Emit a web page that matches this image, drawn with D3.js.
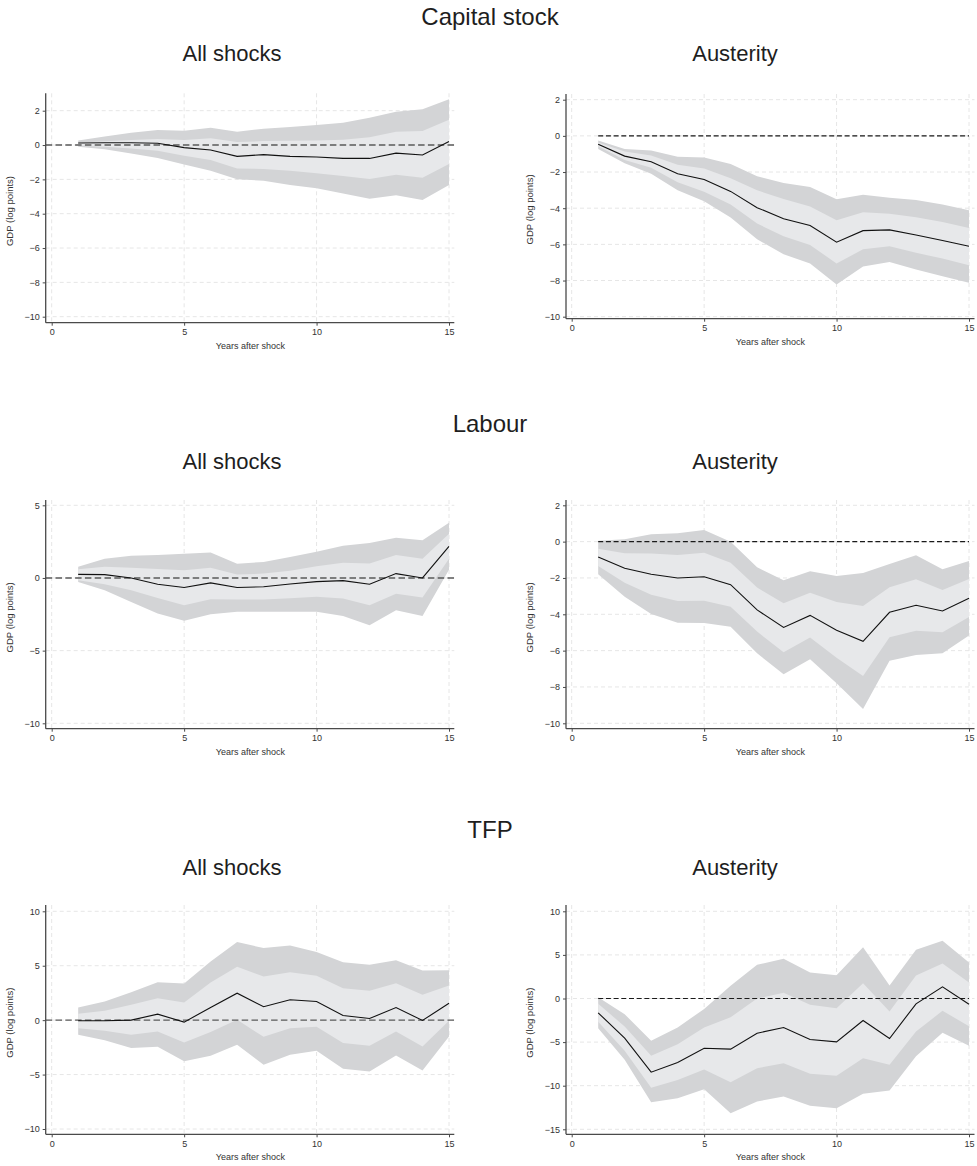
<!DOCTYPE html>
<html>
<head>
<meta charset="utf-8">
<script src="https://cdn.jsdelivr.net/npm/d3@7"></script>
<style>
  body { margin: 0; background: #fff; }
  svg { display: block; }
  text { font-family: "Liberation Sans", Arial, Helvetica, sans-serif; }
</style>
</head>
<body>
<svg id="chart" width="977" height="1166"></svg>
<script>
// Impulse responses of GDP (log points), years 1-15 after the shock.
const years = [1, 2, 3, 4, 5, 6, 7, 8, 9, 10, 11, 12, 13, 14, 15];
const xTicks = [0, 5, 10, 15];

const sectionTitles = ["Capital stock", "Labour", "TFP"];
const columnTitles = ["All shocks", "Austerity"];

// Capital stock, all shocks
const capAllPoint   = [0.12, 0.13, 0.13, 0.10, -0.15, -0.29, -0.66, -0.56, -0.66, -0.70, -0.78, -0.78, -0.47, -0.58, 0.20];
const capAllInnerHi = [0.15, 0.22, 0.30, 0.35, 0.30, 0.40, 0.17, 0.23, 0.25, 0.27, 0.31, 0.45, 0.78, 0.82, 1.48];
const capAllInnerLo = [-0.02, -0.10, -0.20, -0.33, -0.62, -0.87, -1.36, -1.40, -1.50, -1.65, -1.80, -1.98, -1.73, -1.90, -1.10];
const capAllOuterHi = [0.27, 0.49, 0.72, 0.87, 0.83, 1.00, 0.78, 0.95, 1.05, 1.17, 1.30, 1.59, 1.94, 2.08, 2.66];
const capAllOuterLo = [-0.10, -0.25, -0.49, -0.76, -1.13, -1.50, -2.00, -2.08, -2.33, -2.52, -2.82, -3.13, -2.93, -3.20, -2.33];

// Capital stock, austerity
const capAusPoint   = [-0.46, -1.12, -1.43, -2.10, -2.41, -3.07, -3.97, -4.58, -4.96, -5.88, -5.24, -5.20, -5.48, -5.79, -6.10];
const capAusInnerHi = [-0.37, -0.86, -1.08, -1.60, -1.80, -2.35, -3.01, -3.49, -3.90, -4.67, -4.23, -4.30, -4.50, -4.76, -5.09];
const capAusInnerLo = [-0.57, -1.34, -1.76, -2.56, -3.09, -3.79, -4.85, -5.55, -6.03, -7.06, -6.27, -6.10, -6.47, -6.78, -7.15];
const capAusOuterHi = [-0.26, -0.72, -0.81, -1.16, -1.19, -1.56, -2.24, -2.61, -2.83, -3.51, -3.25, -3.42, -3.55, -3.80, -4.12];
const capAusOuterLo = [-0.72, -1.51, -2.10, -3.01, -3.62, -4.52, -5.72, -6.54, -7.06, -8.22, -7.22, -6.97, -7.39, -7.76, -8.12];

// Labour, all shocks
const labAllPoint   = [0.25, 0.23, 0.00, -0.43, -0.66, -0.34, -0.66, -0.60, -0.41, -0.25, -0.18, -0.43, 0.30, 0.00, 2.17];
const labAllInnerHi = [0.60, 0.78, 0.71, 0.62, 0.53, 0.71, 0.23, 0.30, 0.50, 0.80, 1.05, 1.00, 1.58, 1.33, 3.04];
const labAllInnerLo = [-0.16, -0.43, -0.85, -1.37, -1.88, -1.46, -1.49, -1.49, -1.40, -1.30, -1.42, -1.88, -1.08, -1.35, 1.33];
const labAllOuterHi = [0.78, 1.33, 1.53, 1.58, 1.67, 1.76, 0.98, 1.10, 1.44, 1.81, 2.22, 2.40, 2.77, 2.59, 3.80];
const labAllOuterLo = [-0.27, -0.85, -1.65, -2.45, -2.95, -2.49, -2.33, -2.33, -2.33, -2.33, -2.61, -3.25, -2.22, -2.61, 0.57];

// Labour, austerity
const labAusPoint   = [-0.84, -1.47, -1.80, -2.00, -1.93, -2.37, -3.76, -4.72, -4.06, -4.88, -5.49, -3.89, -3.50, -3.82, -3.12];
const labAusInnerHi = [-0.39, -0.64, -0.66, -0.73, -0.61, -1.16, -2.53, -3.39, -2.81, -3.32, -3.54, -2.51, -2.07, -2.66, -2.06];
const labAusInnerLo = [-1.34, -2.26, -2.92, -3.27, -3.25, -3.58, -4.95, -6.09, -5.28, -6.39, -7.39, -5.27, -4.90, -4.99, -4.15];
const labAusOuterHi = [0.05, 0.13, 0.40, 0.46, 0.64, 0.00, -1.41, -2.13, -1.63, -1.89, -1.72, -1.23, -0.75, -1.52, -1.06];
const labAusOuterLo = [-1.80, -3.03, -3.98, -4.46, -4.48, -4.68, -6.15, -7.30, -6.48, -7.80, -9.21, -6.55, -6.24, -6.15, -5.17];

// TFP, all shocks
const tfpAllPoint   = [-0.06, -0.06, 0.00, 0.55, -0.18, 1.16, 2.48, 1.23, 1.87, 1.72, 0.43, 0.15, 1.16, -0.03, 1.56];
const tfpAllInnerHi = [0.58, 0.86, 1.41, 2.02, 1.62, 3.46, 4.90, 4.01, 4.41, 4.07, 2.94, 2.70, 3.40, 2.33, 3.19];
const tfpAllInnerLo = [-0.74, -0.98, -1.35, -1.04, -2.05, -1.10, 0.03, -1.53, -0.74, -0.61, -2.11, -2.36, -1.04, -2.42, -0.06];
const tfpAllOuterHi = [1.16, 1.72, 2.57, 3.49, 3.37, 5.39, 7.17, 6.62, 6.86, 6.25, 5.33, 5.08, 5.51, 4.56, 4.59];
const tfpAllOuterLo = [-1.35, -1.84, -2.57, -2.45, -3.77, -3.28, -2.27, -4.10, -3.19, -2.82, -4.47, -4.72, -3.25, -4.62, -1.50];

// TFP, austerity
const tfpAusPoint   = [-1.64, -4.55, -8.45, -7.34, -5.70, -5.81, -3.98, -3.33, -4.70, -4.97, -2.52, -4.59, -0.61, 1.34, -0.65];
const tfpAusInnerHi = [-0.61, -3.21, -6.57, -5.24, -3.33, -2.14, 0.00, 0.65, -0.73, -1.11, 1.76, -1.49, 2.64, 4.01, 1.83];
const tfpAusInnerLo = [-2.68, -6.00, -10.24, -9.36, -8.14, -9.59, -7.99, -7.42, -8.64, -8.87, -6.84, -7.61, -3.78, -1.41, -3.17];
const tfpAusOuterHi = [0.15, -1.80, -4.85, -3.33, -1.19, 1.45, 3.86, 4.55, 2.98, 2.68, 5.89, 1.49, 5.58, 6.61, 4.13];
const tfpAusOuterLo = [-3.40, -7.03, -11.89, -11.43, -10.40, -13.15, -11.81, -11.24, -12.31, -12.58, -10.93, -10.55, -6.61, -3.94, -5.43];

// y tick values per panel
const yTicksCapAll = [-10, -8, -6, -4, -2, 0, 2];
const yTicksCapAus = [-10, -8, -6, -4, -2, 0, 2];
const yTicksLabAll = [-10, -5, 0, 5];
const yTicksLabAus = [-10, -8, -6, -4, -2, 0, 2];
const yTicksTfpAll = [-10, -5, 0, 5, 10];
const yTicksTfpAus = [-15, -10, -5, 0, 5, 10];

// ---- geometry ----
const columns = [
  { axisX: 45.7, xEnd: 454.3, x0: 51.7, x1: 449, titleX: 232, zeroFull: true,  zeroColor: "#5a5a5a", zeroWidth: 1.4, zeroDash: "6.5,3.3" },
  { axisX: 566,  xEnd: 974.5, x0: 571.7, x1: 969, titleX: 735, zeroFull: false, zeroColor: "#1a1a1a", zeroWidth: 1.1, zeroDash: "5,2.7" }
];
const rows = [
  { sectionY: 25,  subY: 60.7 },
  { sectionY: 432, subY: 468.5 },
  { sectionY: 838, subY: 874.5 }
];

const panels = [
  { row: 0, col: 0, top: 93.3, bottom: 322.7, pxLo: 316.7, pxHi: 110.7, ticks: yTicksCapAll,
    point: capAllPoint, innerHi: capAllInnerHi, innerLo: capAllInnerLo, outerHi: capAllOuterHi, outerLo: capAllOuterLo },
  { row: 0, col: 1, top: 94, bottom: 318.7, pxLo: 316.7, pxHi: 99.7, ticks: yTicksCapAus,
    point: capAusPoint, innerHi: capAusInnerHi, innerLo: capAusInnerLo, outerHi: capAusOuterHi, outerLo: capAusOuterLo },
  { row: 1, col: 0, top: 500, bottom: 728.7, pxLo: 723.3, pxHi: 505.3, ticks: yTicksLabAll,
    point: labAllPoint, innerHi: labAllInnerHi, innerLo: labAllInnerLo, outerHi: labAllOuterHi, outerLo: labAllOuterLo },
  { row: 1, col: 1, top: 500, bottom: 728.7, pxLo: 723.3, pxHi: 505.3, ticks: yTicksLabAus,
    point: labAusPoint, innerHi: labAusInnerHi, innerLo: labAusInnerLo, outerHi: labAusOuterHi, outerLo: labAusOuterLo },
  { row: 2, col: 0, top: 905, bottom: 1134.3, pxLo: 1129, pxHi: 911.3, ticks: yTicksTfpAll,
    point: tfpAllPoint, innerHi: tfpAllInnerHi, innerLo: tfpAllInnerLo, outerHi: tfpAllOuterHi, outerLo: tfpAllOuterLo },
  { row: 2, col: 1, top: 905, bottom: 1134.3, pxLo: 1129.3, pxHi: 911.3, ticks: yTicksTfpAus,
    point: tfpAusPoint, innerHi: tfpAusInnerHi, innerLo: tfpAusInnerLo, outerHi: tfpAusOuterHi, outerLo: tfpAusOuterLo }
];

const svg = d3.select("#chart");
const outerFill = "#d3d4d6";
const innerFill = "#e7e8ea";
const axisColor = "#4a4a4a";
const gridColor = "#e6e6e6";

// section and column titles
rows.forEach((r, i) => {
  svg.append("text")
    .attr("x", 490).attr("y", r.sectionY)
    .attr("text-anchor", "middle")
    .attr("font-size", 24).attr("fill", "#1e1e1e")
    .text(sectionTitles[i]);
  columns.forEach((c, j) => {
    svg.append("text")
      .attr("x", c.titleX).attr("y", r.subY)
      .attr("text-anchor", "middle")
      .attr("font-size", 22).attr("fill", "#1e1e1e")
      .text(columnTitles[j]);
  });
});

panels.forEach(p => {
  const c = columns[p.col];
  const g = svg.append("g");

  const x = d3.scaleLinear().domain([0, 15]).range([c.x0, c.x1]);
  const lo = d3.min(p.ticks), hi = d3.max(p.ticks);
  const y = d3.scaleLinear().domain([lo, hi]).range([p.pxLo, p.pxHi]);

  // dashed grid
  g.selectAll(".hgrid").data(p.ticks).join("line")
    .attr("x1", c.axisX).attr("x2", c.xEnd)
    .attr("y1", d => y(d)).attr("y2", d => y(d))
    .attr("stroke", gridColor).attr("stroke-width", 1).attr("stroke-dasharray", "4,3");
  g.selectAll(".vgrid").data(xTicks).join("line")
    .attr("x1", d => x(d)).attr("x2", d => x(d))
    .attr("y1", p.top).attr("y2", p.bottom)
    .attr("stroke", gridColor).attr("stroke-width", 1).attr("stroke-dasharray", "4,3");

  const rowsData = years.map((yr, i) => ({
    yr, pt: p.point[i], iHi: p.innerHi[i], iLo: p.innerLo[i], oHi: p.outerHi[i], oLo: p.outerLo[i]
  }));

  // confidence bands
  g.append("path").datum(rowsData)
    .attr("fill", outerFill)
    .attr("d", d3.area().x(d => x(d.yr)).y0(d => y(d.oLo)).y1(d => y(d.oHi)));
  g.append("path").datum(rowsData)
    .attr("fill", innerFill)
    .attr("d", d3.area().x(d => x(d.yr)).y0(d => y(d.iLo)).y1(d => y(d.iHi)));

  // zero reference line
  g.append("line")
    .attr("x1", c.zeroFull ? c.axisX : x(years[0]))
    .attr("x2", c.zeroFull ? c.xEnd : x(years[years.length - 1]))
    .attr("y1", y(0)).attr("y2", y(0))
    .attr("stroke", c.zeroColor).attr("stroke-width", c.zeroWidth)
    .attr("stroke-dasharray", c.zeroDash);

  // point estimate
  g.append("path").datum(rowsData)
    .attr("fill", "none").attr("stroke", "#111").attr("stroke-width", 1.1)
    .attr("d", d3.line().x(d => x(d.yr)).y(d => y(d.pt)));

  // y axis
  const ya = g.append("g")
    .attr("transform", `translate(${c.axisX},0)`)
    .call(d3.axisLeft(y).tickValues(p.ticks).tickSize(3).tickPadding(3).tickSizeOuter(0));
  ya.select(".domain").remove();
  ya.selectAll(".tick line").attr("stroke", axisColor);
  ya.selectAll(".tick text").attr("font-size", 9).attr("fill", "#333")
    .style("font-family", "'Liberation Sans', Arial, sans-serif");
  g.append("line")
    .attr("x1", c.axisX).attr("x2", c.axisX).attr("y1", p.top).attr("y2", p.bottom)
    .attr("stroke", axisColor).attr("stroke-width", 1.3);

  // x axis
  const xa = g.append("g")
    .attr("transform", `translate(0,${p.bottom})`)
    .call(d3.axisBottom(x).tickValues(xTicks).tickSize(3).tickPadding(3).tickSizeOuter(0));
  xa.select(".domain").remove();
  xa.selectAll(".tick line").attr("stroke", axisColor);
  xa.selectAll(".tick text").attr("font-size", 9).attr("fill", "#333")
    .style("font-family", "'Liberation Sans', Arial, sans-serif");
  g.append("line")
    .attr("x1", c.axisX).attr("x2", c.xEnd).attr("y1", p.bottom).attr("y2", p.bottom)
    .attr("stroke", axisColor).attr("stroke-width", 1.3);

  // axis titles
  g.append("text")
    .attr("x", (c.x0 + c.x1) / 2).attr("y", p.bottom + 26)
    .attr("text-anchor", "middle").attr("font-size", 9).attr("fill", "#333")
    .text("Years after shock");
  g.append("text")
    .attr("transform", `translate(${c.axisX - 33},${(p.top + p.bottom) / 2 + 3}) rotate(-90)`)
    .attr("text-anchor", "middle").attr("font-size", 9.5).attr("fill", "#333")
    .text("GDP (log points)");
});
</script>
</body>
</html>
